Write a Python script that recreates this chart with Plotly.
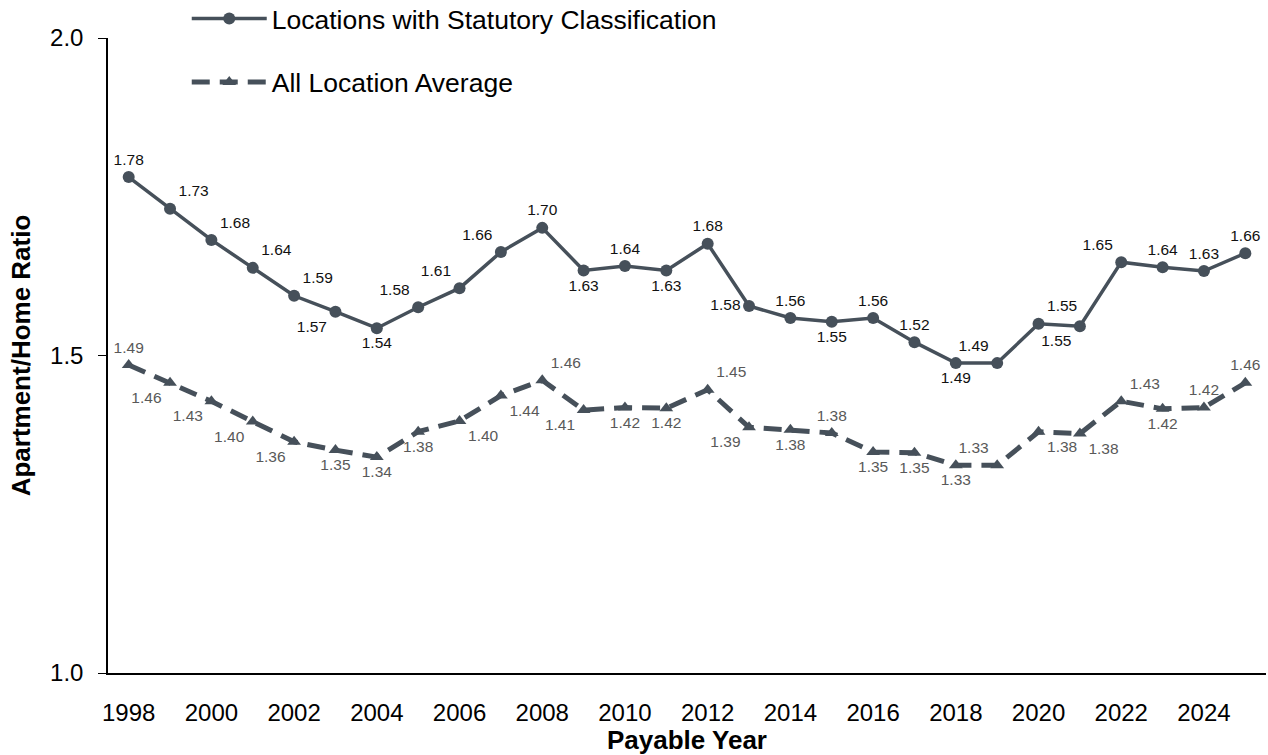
import plotly.graph_objects as go

years = list(range(1998, 2026))
statutory = [1.781, 1.731, 1.682, 1.638, 1.594, 1.569, 1.543, 1.576, 1.606, 1.663,
             1.701, 1.634, 1.641, 1.634, 1.676, 1.578, 1.559, 1.553, 1.559, 1.521,
             1.488, 1.488, 1.550, 1.546, 1.647, 1.639, 1.633, 1.661]
average = [1.485, 1.457, 1.428, 1.396, 1.364, 1.351, 1.340, 1.380, 1.397, 1.437,
           1.461, 1.414, 1.418, 1.417, 1.446, 1.387, 1.383, 1.378, 1.348, 1.347,
           1.327, 1.327, 1.380, 1.377, 1.428, 1.416, 1.418, 1.457]
x_ticks = list(range(1998, 2025, 2))
y_ticks = [1.0, 1.5, 2.0]

stat_pos = ["top center", "top right", "top right", "top right", "top right", "bottom left",
            "bottom center", "top left", "top left", "top left", "top center", "bottom center",
            "top center", "bottom center", "top center", "middle left", "top center",
            "bottom center", "top center", "top center", "bottom center", "top left",
            "top right", "bottom left", "top left", "top center", "top center", "top center"]
avg_pos = ["top center", "bottom left", "bottom left", "bottom left", "bottom left", "bottom center",
           "bottom center", "bottom center", "bottom right", "bottom right", "top right",
           "bottom left", "bottom center", "bottom center", "top right", "bottom left",
           "bottom center", "top center", "bottom center", "bottom center", "bottom center",
           "top left", "bottom right", "bottom right", "top right", "bottom center",
           "top center", "top center"]

line_color = "#46505a"
base_font = "Liberation Sans, Arial, sans-serif"

fig = go.Figure()
fig.add_trace(go.Scatter(
    x=years, y=statutory, mode="lines+markers+text",
    name="Locations with Statutory Classification",
    line=dict(color=line_color, width=3.5),
    marker=dict(symbol="circle", size=12, color=line_color),
    text=[f"{v:.2f}" for v in statutory], textposition=stat_pos,
    textfont=dict(family=base_font, size=15.5, color="#111111"),
    legendgroup="a",
))
fig.add_trace(go.Scatter(
    x=years, y=average, mode="lines+markers+text",
    name="All Location Average",
    line=dict(color=line_color, width=5, dash="18px,10px"),
    marker=dict(symbol="triangle-up", size=12, color=line_color),
    text=[f"{v:.2f}" for v in average], textposition=avg_pos,
    textfont=dict(family=base_font, size=15.5, color="#595959"),
    legendgroup="b",
))

fig.update_layout(
    width=1268, height=755,
    margin=dict(l=108, r=2, t=38, b=82, autoexpand=False),
    paper_bgcolor="white", plot_bgcolor="white",
    font=dict(family=base_font, color="#000000"),
    showlegend=True,
    legend=dict(x=0.068, y=1.068, xanchor="left", yanchor="top",
                font=dict(size=26.5, color="#000000"), tracegroupgap=26,
                itemwidth=75, bgcolor="rgba(0,0,0,0)"),
    xaxis=dict(range=[1997.5, 2025.5], tickvals=x_ticks,
               ticktext=[str(t) for t in x_ticks], showgrid=False, zeroline=False,
               showline=True, linecolor="#000000", linewidth=1.5, ticks="",
               ticklabelstandoff=17,
               tickfont=dict(size=24, color="#000000"),
               title=dict(text="<b>Payable Year</b>", font=dict(size=26), standoff=2)),
    yaxis=dict(range=[1.0, 2.0], tickvals=y_ticks,
               ticktext=[f"{t:.1f}" for t in y_ticks], showgrid=False, zeroline=False,
               showline=True, linecolor="#000000", linewidth=1.5, ticks="outside",
               ticklen=8, tickcolor="#000000", tickwidth=1, ticklabelstandoff=10,
               tickfont=dict(size=24, color="#000000"),
               title=dict(text="<b>Apartment/Home Ratio</b>", font=dict(size=26), standoff=12)),
)

fig.write_html("out.html")
